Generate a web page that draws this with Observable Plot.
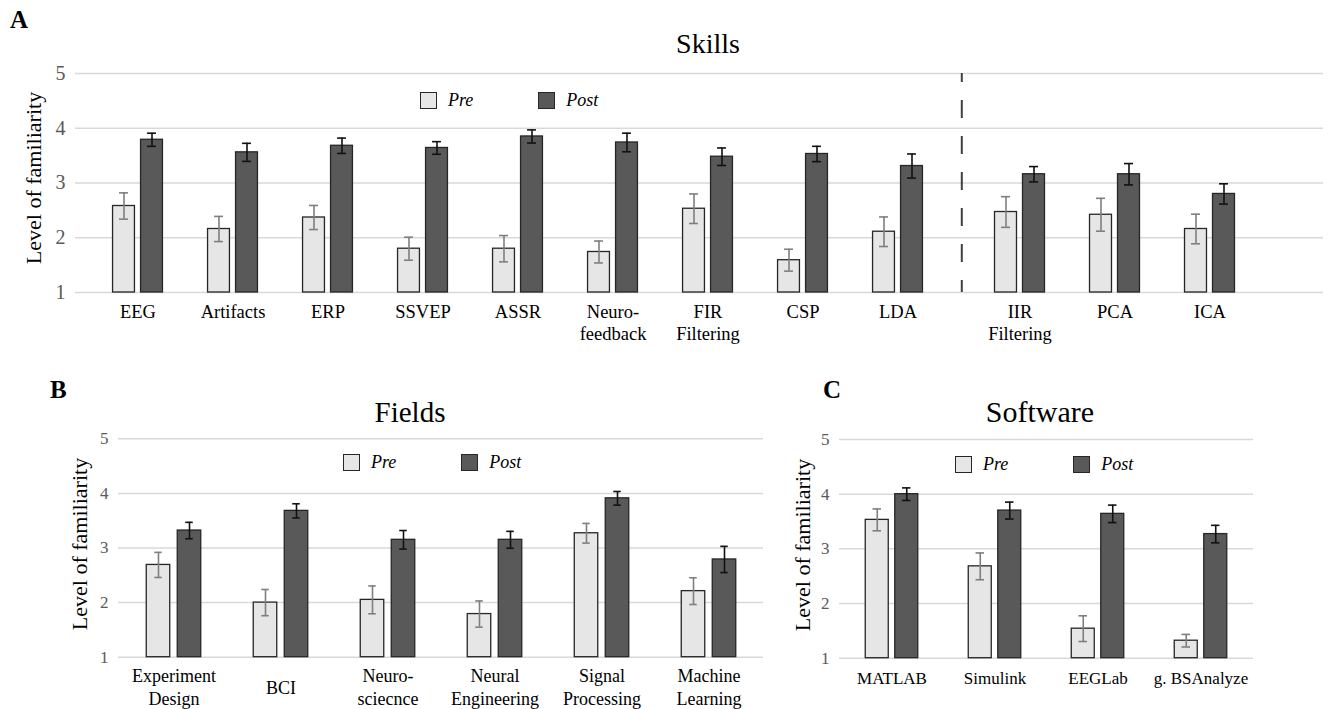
<!DOCTYPE html>
<html><head><meta charset="utf-8">
<script src="https://cdn.jsdelivr.net/npm/d3@7"></script>
<script src="https://cdn.jsdelivr.net/npm/@observablehq/plot@0.6"></script>
<style>
html,body{margin:0;padding:0;background:#fff;}
#fig{position:relative;width:1328px;height:709px;overflow:hidden;font-family:"Liberation Serif","Times New Roman",serif;color:#000;}
.ttl{position:absolute;line-height:1;white-space:nowrap;transform:translateX(-50%);}
.let{position:absolute;line-height:1;font-weight:bold;font-size:25px;}
.ylab{position:absolute;white-space:nowrap;font-size:22px;line-height:1;transform:translate(-50%,-50%) rotate(-90deg);}
.legend{position:absolute;display:flex;align-items:center;font-style:italic;font-size:18px;line-height:1;}
.sw{box-sizing:border-box;width:17px;height:17px;border:1.3px solid #262626;margin-right:11px;}
.lt{margin-right:65px;}
</style></head><body><div id="fig"></div>
<script>
// ---------- data ----------
const series = ["Pre", "Post"];
const seriesFill = ["#e6e6e6", "#595959"];
const seriesErrColor = ["#7f7f7f", "#111111"];
const yTicks = [1, 2, 3, 4, 5];
const yLabel = "Level of familiarity";

const skillsCats = ["EEG", "Artifacts", "ERP", "SSVEP", "ASSR", "Neuro-\nfeedback", "FIR\nFiltering", "CSP", "LDA"];
const skillsPre = [2.58, 2.16, 2.37, 1.80, 1.80, 1.74, 2.53, 1.59, 2.11];
const skillsPreErr = [0.24, 0.23, 0.22, 0.21, 0.24, 0.20, 0.27, 0.20, 0.27];
const skillsPost = [3.79, 3.56, 3.68, 3.64, 3.85, 3.74, 3.48, 3.53, 3.31];
const skillsPostErr = [0.12, 0.165, 0.14, 0.115, 0.12, 0.17, 0.16, 0.14, 0.22];

const skillsExtraCats = ["IIR\nFiltering", "PCA", "ICA"];
const skillsExtraPre = [2.47, 2.42, 2.16];
const skillsExtraPreErr = [0.28, 0.30, 0.27];
const skillsExtraPost = [3.16, 3.16, 2.80];
const skillsExtraPostErr = [0.14, 0.195, 0.185];

const fieldsCats = ["Experiment\nDesign", "BCI", "Neuro-\nsciecnce", "Neural\nEngineering", "Signal\nProcessing", "Machine\nLearning"];
const fieldsPre = [2.69, 2.00, 2.05, 1.79, 3.27, 2.21];
const fieldsPreErr = [0.23, 0.24, 0.255, 0.24, 0.18, 0.245];
const fieldsPost = [3.32, 3.68, 3.15, 3.15, 3.91, 2.79];
const fieldsPostErr = [0.15, 0.13, 0.17, 0.155, 0.125, 0.24];

const softwareCats = ["MATLAB", "Simulink", "EEGLab", "g. BSAnalyze"];
const softwarePre = [3.53, 2.68, 1.54, 1.32];
const softwarePreErr = [0.20, 0.245, 0.235, 0.115];
const softwarePost = [4.00, 3.70, 3.64, 3.27];
const softwarePostErr = [0.115, 0.155, 0.16, 0.16];

// ---------- helpers ----------
const fig = document.getElementById("fig");
const FONT = "'Liberation Serif', 'Times New Roman', serif";
function addDiv(cls, text, css) {
  const d = document.createElement("div");
  d.className = cls; d.textContent = text;
  Object.assign(d.style, css);
  fig.appendChild(d);
  return d;
}
function legend(left, top) {
  const lg = document.createElement("div");
  lg.className = "legend";
  lg.style.left = left + "px"; lg.style.top = top + "px";
  series.forEach((s, i) => {
    const sw = document.createElement("div");
    sw.className = "sw"; sw.style.background = seriesFill[i];
    const t = document.createElement("span");
    t.className = "lt"; t.textContent = s;
    lg.appendChild(sw); lg.appendChild(t);
  });
  fig.appendChild(lg);
}

function panel(o) {
  const {left, top, width, height, mt, mb, ml, mr, cats, pre, preErr, post, postErr,
         po = 0, align = 0.5, barW, gap, capW, tickFont, catFont, catDy, catAnchor, catLH,
         showY = true, dashed = false} = o;
  const n = cats.length;
  const range = width - ml - mr;
  const step = range / (n + 2 * po);
  const start = (range - step * n) * align;
  const inset = (step - barW) / 2, capInset = (step - capW) / 2, off = (barW + gap) / 2;
  const groups = [[pre, preErr], [post, postErr]].map(([vals, errs], si) =>
    cats.map((c, i) => ({cat: c, series: series[si], v: vals[i], e: errs[i]})));
  const marks = [Plot.ruleY(yTicks, {stroke: "#d9d9d9", strokeWidth: 1.5})];
  groups.forEach((rows, si) => {
    const dx = si === 0 ? -off : off;
    marks.push(
      Plot.barY(rows, {x: "cat", y1: 1, y2: "v", fill: "series", stroke: "#262626", strokeWidth: 1.3,
        insetLeft: inset, insetRight: inset, dx}),
      Plot.ruleX(rows, {x: "cat", y1: d => d.v - d.e, y2: d => d.v + d.e, dx, stroke: seriesErrColor[si], strokeWidth: 1.6}),
      Plot.tickY(rows, {x: "cat", y: d => d.v + d.e, dx, stroke: seriesErrColor[si], strokeWidth: 1.6, insetLeft: capInset, insetRight: capInset}),
      Plot.tickY(rows, {x: "cat", y: d => d.v - d.e, dx, stroke: seriesErrColor[si], strokeWidth: 1.6, insetLeft: capInset, insetRight: capInset})
    );
  });
  if (dashed) {
    marks.push(Plot.ruleX([cats[0]], {x: d => d, dx: -(start + step / 2) + 1, stroke: "#404040", strokeWidth: 2,
      strokeDasharray: "18,18", strokeDashoffset: 9}));
  }
  marks.push(Plot.text(cats, {x: d => d, frameAnchor: "bottom", dy: catDy, lineAnchor: catAnchor,
    lineHeight: catLH, fontSize: catFont, fontFamily: FONT, fill: "#000"}));
  if (showY) marks.push(Plot.axisY({ticks: yTicks, tickFormat: d => String(d), tickSize: 0, tickPadding: 10,
    fontSize: tickFont, fontFamily: FONT, fill: "#595959", label: null}));
  const svg = Plot.plot({
    width, height, marginTop: mt, marginBottom: mb, marginLeft: ml, marginRight: mr,
    style: {fontFamily: FONT, background: "transparent", overflow: "visible"},
    x: {domain: cats, paddingInner: 0, paddingOuter: po, align, axis: null},
    y: {domain: [1, 5], axis: showY ? undefined : null},
    color: {domain: series, range: seriesFill},
    marks
  });
  svg.style.position = "absolute";
  svg.style.left = left + "px";
  svg.style.top = top + "px";
  fig.appendChild(svg);
}

// ---------- Panel A ----------
panel({left: 0, top: 55, width: 960, height: 285, mt: 18, mb: 48, ml: 75, mr: 0,
  cats: skillsCats, pre: skillsPre, preErr: skillsPreErr, post: skillsPost, postErr: skillsPostErr,
  po: 0.153, barW: 22, gap: 6, capW: 9, tickFont: 20, catFont: 18.5, catDy: 10, catAnchor: "top", catLH: 1.19});
panel({left: 960, top: 55, width: 368, height: 285, mt: 18, mb: 48, ml: 0, mr: 5,
  cats: skillsExtraCats, pre: skillsExtraPre, preErr: skillsExtraPreErr, post: skillsExtraPost, postErr: skillsExtraPostErr,
  po: 0.41, align: 0.15, barW: 22, gap: 6, capW: 9, tickFont: 20, catFont: 18.5, catDy: 10, catAnchor: "top", catLH: 1.19,
  showY: false, dashed: true});

// ---------- Panel B ----------
panel({left: 0, top: 425, width: 770, height: 284, mt: 13.3, mb: 52.3, ml: 118, mr: 7,
  cats: fieldsCats, pre: fieldsPre, preErr: fieldsPreErr, post: fieldsPost, postErr: fieldsPostErr,
  barW: 24, gap: 7, capW: 8, tickFont: 17, catFont: 18, catDy: 29, catAnchor: "middle", catLH: 1.28});

// ---------- Panel C ----------
panel({left: 780, top: 425, width: 548, height: 284, mt: 14, mb: 51.3, ml: 59, mr: 75,
  cats: softwareCats, pre: softwarePre, preErr: softwarePreErr, post: softwarePost, postErr: softwarePostErr,
  barW: 23.5, gap: 6, capW: 9, tickFont: 17, catFont: 17, catDy: 19, catAnchor: "middle", catLH: 1.28});

// ---------- titles, letters, y labels, legends ----------
addDiv("let", "A", {left: "10px", top: "7px"});
addDiv("let", "B", {left: "50px", top: "377px"});
addDiv("let", "C", {left: "823px", top: "377px"});
addDiv("ttl", "Skills", {left: "708px", top: "29.5px", fontSize: "28px"});
addDiv("ttl", "Fields", {left: "410px", top: "397.7px", fontSize: "29px"});
addDiv("ttl", "Software", {left: "1040px", top: "397px", fontSize: "30px"});
addDiv("ylab", yLabel, {left: "34px", top: "178px"});
addDiv("ylab", yLabel, {left: "80px", top: "544px"});
addDiv("ylab", yLabel, {left: "803px", top: "545px"});
legend(420, 91);
legend(343, 453);
legend(955, 455);
</script></body></html>
